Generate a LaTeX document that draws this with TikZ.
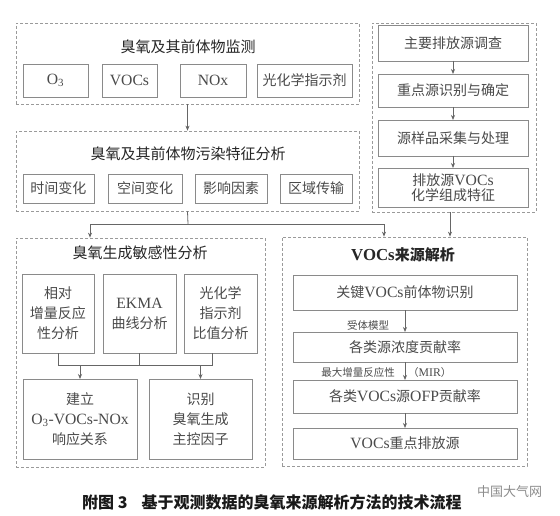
\documentclass[tikz,border=0pt]{standalone}
\usepackage{fontspec}
\setmainfont{Liberation Serif}[Scale=1.12]
\newfontfamily\cjk{Noto Sans CJK SC}
\newcommand\zh[1]{{\cjk #1}}
\usetikzlibrary{arrows.meta,calc}
\definecolor{lnc}{HTML}{8A8A8A}
\definecolor{dsh}{HTML}{9A9A9A}
\definecolor{txc}{HTML}{4A4A4A}
\tikzset{
  dbox/.style={draw=dsh, dash pattern=on 3pt off 2pt, line width=0.7pt, inner sep=0pt},
  ibox/.style={draw=lnc, line width=0.8pt, text=txc, align=center, inner sep=0pt, outer sep=0pt,
    font=\fontsize{14}{17}\selectfont},
  tall/.style={font=\fontsize{14}{20}\selectfont},
  ttl/.style={text=black!85, font=\cjk\fontsize{15}{17}\selectfont, inner sep=0pt},
  conn/.style={draw=black!60, line width=0.8pt},
  arr/.style={conn, -{Stealth[length=5pt,width=4pt]}},
  lbl/.style={text=black!70, font=\cjk\fontsize{10.5}{12}\selectfont, inner sep=0pt},
}
% \bx{name}{x1}{y1}{x2}{y2}{style}{text}
\newcommand\bx[7]{\node[#6, minimum width={(#4-#2)*1pt}, minimum height={(#5-#3)*1pt}] (#1) at ({(#2+#4)/2},{(#3+#5)/2}) {#7};}
\begin{document}
\begin{tikzpicture}[x=1pt,y=-1pt]
\useasboundingbox[fill=white] (0,0) rectangle (560,516);
% ---- monitoring
\bx{mon}{16}{23}{359}{104}{dbox}{}
\node[ttl] (monT) at (188,47) {臭氧及其前体物监测};
\bx{o3}{23}{64}{88}{97}{ibox}{O\textsubscript{3}}
\bx{voc}{102}{64}{157}{97}{ibox}{VOCs}
\bx{nox}{180}{64}{246}{97}{ibox}{NOx}
\bx{pci}{257}{64}{352}{97}{ibox}{\zh{光化学指示剂}}
% ---- pollution characteristics
\bx{pol}{16}{131}{359}{211}{dbox}{}
\node[ttl] (polT) at (188,154) {臭氧及其前体物污染特征分析};
\bx{p1}{23}{174}{94}{203}{ibox}{\zh{时间变化}}
\bx{p2}{108}{174}{182}{203}{ibox}{\zh{空间变化}}
\bx{p3}{195}{174}{267}{203}{ibox}{\zh{影响因素}}
\bx{p4}{280}{174}{352}{203}{ibox}{\zh{区域传输}}
% ---- source survey
\bx{src}{372}{23}{536}{212}{dbox}{}
\bx{r1}{378}{25}{528}{61}{ibox}{\zh{主要排放源调查}}
\bx{r2}{378}{74}{528}{107}{ibox}{\zh{重点源识别与确定}}
\bx{r3}{378}{120}{528}{156}{ibox}{\zh{源样品采集与处理}}
\bx{r4}{378}{168}{528}{207}{ibox, font=\fontsize{14}{15}\selectfont}{\zh{排放源}VOCs\\\zh{化学组成特征}}
\draw[arr] (r1) -- (r2);
\draw[arr] (r2) -- (r3);
\draw[arr] (r3) -- (r4);
% ---- sensitivity
\bx{sen}{16}{238}{265}{467}{dbox}{}
\node[ttl] (senT) at (140,253) {臭氧生成敏感性分析};
\bx{s1}{22}{274}{94}{353}{ibox, tall}{\zh{相对}\\\zh{增量反应}\\\zh{性分析}}
\bx{s2}{103}{274}{176}{353}{ibox, tall}{EKMA\\\zh{曲线分析}}
\bx{s3}{184}{274}{257}{353}{ibox, tall}{\zh{光化学}\\\zh{指示剂}\\\zh{比值分析}}
\bx{b1}{23}{379}{137}{459}{ibox, tall}{\zh{建立}\\O\textsubscript{3}-VOCs-NOx\\\zh{响应关系}}
\bx{b2}{149}{379}{252}{459}{ibox, tall}{\zh{识别}\\\zh{臭氧生成}\\\zh{主控因子}}
\coordinate (jL) at (58,365);
\coordinate (jR) at (212,365);
\draw[conn] (s1.south) -- (jL) -- (jR) -- (s3.south -| jR);
\draw[conn] (s2.south) -- (s2.south |- jL);
\draw[arr] (b1.north |- jL) -- (b1.north);
\draw[arr] (b2.north |- jL) -- (b2.north);
% ---- VOCs source apportionment
\bx{vsa}{282}{237}{527}{466}{dbox}{}
\node[inner sep=0pt, text=black!85, font=\bfseries\fontsize{15}{17}\selectfont] (vsaT) at (403,255) {VOCs\zh{\bfseries 来源解析}};
\bx{v1}{293}{275}{517}{310}{ibox}{\zh{关键}VOCs\zh{前体物识别}}
\bx{v2}{293}{332}{517}{362}{ibox}{\zh{各类源浓度贡献率}}
\bx{v3}{293}{380}{517}{413}{ibox}{\zh{各类}VOCs\zh{源}OFP\zh{贡献率}}
\bx{v4}{293}{428}{517}{459}{ibox}{VOCs\zh{重点排放源}}
\draw[arr] (v1) -- (v2);
\draw[arr] (v2) -- (v3);
\draw[arr] (v3) -- (v4);
\node[lbl] (l1) at (368,325) {受体模型};
\node[lbl, anchor=east] (l2) at (395,373) {最大增量反应性};
\node[lbl, anchor=west, font=\fontsize{10.5}{12}\selectfont] (l3) at (408,373) {\zh{（}MIR\zh{）}};
% ---- main connectors
\draw[arr] (mon.south) -- (pol.north);
\coordinate (jc) at (188,224);
\coordinate (ja) at (90,224);
\coordinate (jb) at (384,224);
\draw[conn] (pol.south) -- (jc);
\draw[conn] (ja) -- (jb);
\draw[arr] (ja) -- (ja |- sen.north);
\draw[arr] (jb) -- (jb |- vsa.north);
\draw[arr] (src.south -| 450,0) -- (vsa.north -| 450,0);
% ---- caption
\node[anchor=west, inner sep=0pt, text=black!90, font=\cjk\bfseries\fontsize{16}{18}\selectfont] (cap) at (82,502) {附图 3\hspace{14pt}基于观测数据的臭氧来源解析方法的技术流程};
\node[anchor=west, inner sep=0pt, text=black!45, font=\cjk\fontsize{13}{14}\selectfont] (wm) at (477,492) {中国大气网};
\end{tikzpicture}
\end{document}
